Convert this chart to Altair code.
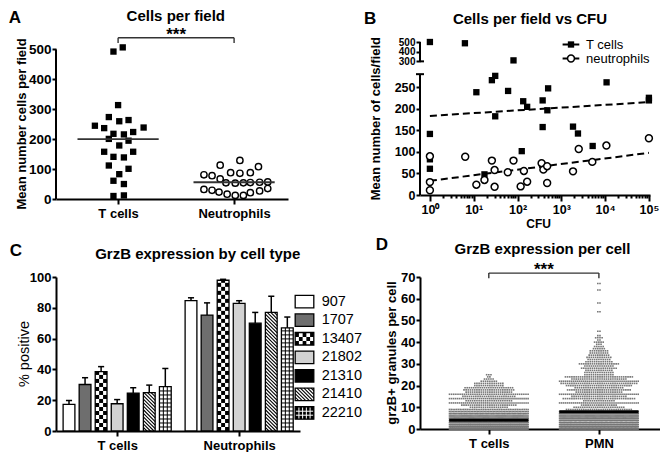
import altair as alt
import pandas as pd

FONT = "Liberation Sans"

# ---------------- Panel A: Cells per field ----------------
a_groups = ["T cells", "Neutrophils"]
a_tcells = [493, 507, 314, 274, 260, 264, 245, 237, 239, 224, 218, 216, 201, 195,
            179, 158, 141, 139, 158, 112, 101, 83, 61, 50, 10, 12]
a_tcells_jitter = [-0.04, 0.04, 0.0, -0.08, 0.01, 0.09, -0.2, -0.12, 0.22, 0.13, -0.04, 0.05,
                   -0.08, 0.09, 0.01, -0.12, -0.04, 0.05, 0.13, -0.08, 0.09, 0.01, -0.04, 0.05,
                   -0.04, 0.05]
a_neut = [129, 113, 108, 88, 86, 88, 81, 78, 67, 54, 53, 54, 55, 56, 57,
          32, 29, 23, 16, 12, 12, 21, 27, 35]
a_neut_jitter = [0.05, -0.12, 0.21, -0.03, 0.05, 0.14, -0.26, -0.19, -0.12, -0.07, 0.01, 0.08,
                 0.14, 0.22, 0.29, -0.26, -0.19, -0.13, -0.06, 0.01, 0.08, 0.14, 0.22, 0.29]
a_medians = [200, 56]

# ---------------- Panel B: Cells per field vs CFU ----------------
b_series = ["T cells", "neutrophils"]
b_t_cfu = [1, 6.3, 81, 1, 1, 1, 11.5, 26, 31, 31, 61, 125, 135, 166, 375, 375, 500, 480,
           1850, 2400, 5200, 10800, 100000, 100000, 17.6]
b_t_cells = [500, 487, 310, 142, 83, 61, 239, 267, 277, 183, 242, 102, 218, 205, 220, 158, 248,
             197, 159, 143, 114, 262, 226, 220, 48]
b_n_cfu = [1, 1, 1, 6.4, 11.5, 17.6, 26, 30, 30, 60, 81, 118, 140, 166, 355, 390, 475, 475,
           1850, 2500, 5100, 10700, 100000]
b_n_cells = [90, 30, 11, 89, 24, 35, 80, 58, 19, 53, 80, 20, 56, 31, 74, 59, 67, 28, 55, 107,
             77, 115, 132]
b_trend_cfu = [1, 100000]
b_trend_t = [184, 216]
b_trend_n = [33, 98]

# ---------------- Panel C: GrzB expression by cell type ----------------
c_groups = ["T cells", "Neutrophils"]
c_series = ["907", "1707", "13407", "21802", "21310", "21410", "22210"]
c_tcell_mean = [17.3, 30.2, 38.5, 17.7, 24.6, 24.9, 28.8]
c_tcell_sem = [2.5, 4.4, 3.3, 2.7, 3.5, 4.9, 11.8]
c_neut_mean = [84.6, 75.3, 97.9, 82.9, 70.0, 77.0, 67.0]
c_neut_sem = [1.9, 7.9, 0.6, 1.7, 7.0, 10.5, 7.0]

# ---------------- Panel D: GrzB expression per cell ----------------
d_groups = ["T cells", "PMN"]
d_t_values = list(range(26))
d_t_counts = [110, 120, 115, 105, 95, 85, 75, 65, 55, 45, 18, 26, 40, 22, 40, 25, 38, 22, 24,
              23, 14, 14, 8, 5, 2, 3]
d_pmn_values = list(range(44)) + [45, 54, 58, 64, 67]
d_pmn_counts = [90, 100, 105, 100, 95, 90, 85, 80, 75, 31, 24, 17, 40, 15, 34, 26, 40, 22, 30,
                23, 31, 36, 40, 26, 32, 14, 14, 13, 17, 14, 19, 13, 11, 12, 10, 9, 9, 6, 5, 3,
                5, 2, 4, 2, 2, 2, 2, 2, 2]
d_medians = [4, 8]

one = pd.DataFrame({"k": [0]})


def label_px(s, x, y, size, weight="bold", angle=0, align="center", baseline="middle"):
    return (alt.Chart(one)
            .mark_text(text=s, font=FONT, fontSize=size, fontWeight=weight, angle=angle,
                       align=align, baseline=baseline, color="black")
            .encode(x=alt.value(x), y=alt.value(y)))


def bracket_layers(X, Y, xa, xb, ytop, yleg, ystar):
    h = alt.Chart(pd.DataFrame({"xa": [xa], "xb": [xb], "y": [ytop]})).mark_rule(
        color="#333", strokeWidth=1.4).encode(x=X("xa"), x2="xb:Q", y=Y("y"))
    legs = alt.Chart(pd.DataFrame({"x": [xa, xb], "ya": [ytop, ytop], "yb": [yleg, yleg]})).mark_rule(
        color="#333", strokeWidth=1.4).encode(x=X("x"), y=Y("ya"), y2="yb:Q")
    star = alt.Chart(pd.DataFrame({"x": [(xa + xb) / 2], "y": [ystar], "t": ["***"]})).mark_text(
        font=FONT, fontSize=17, fontWeight="bold", baseline="alphabetic", color="black").encode(
        x=X("x"), y=Y("y"), text="t:N")
    return [h, legs, star]


# ======================= Panel A =======================
A_W, A_H = 232, 157
ax_scale = alt.Scale(domain=[0.4647, 2.4647], nice=False, zero=False)
ay_scale = alt.Scale(domain=[0, 525], nice=False, zero=False)
ax_axis = alt.Axis(values=[1, 2],
                   labelExpr=f"datum.value == 1 ? '{a_groups[0]}' : '{a_groups[1]}'",
                   labelFlush=False, labelOverlap=False, labelFontSize=13, tickSize=5,
                   labelPadding=3, title=None)
ay_axis = alt.Axis(values=[0, 100, 200, 300, 400, 500], domain=False, labelFontSize=13.5,
                   labelOverlap=False, tickSize=4, labelPadding=1, title=None)


def AX(f):
    return alt.X(f"{f}:Q", scale=ax_scale, axis=ax_axis)


def AY(f):
    return alt.Y(f"{f}:Q", scale=ay_scale, axis=ay_axis)


a_pts = pd.DataFrame({"grp": [0] * len(a_tcells) + [1] * len(a_neut),
                      "value": a_tcells + a_neut,
                      "jit": a_tcells_jitter + a_neut_jitter})
a_base = alt.Chart(a_pts).transform_calculate(xpos="datum.grp + 1 + datum.jit")
a_sq = a_base.transform_filter("datum.grp == 0").mark_point(
    shape="square", filled=True, color="black", size=40, opacity=1).encode(x=AX("xpos"), y=AY("value"))
a_ci = a_base.transform_filter("datum.grp == 1").mark_point(
    shape="circle", filled=True, fill="white", stroke="black", strokeWidth=1.4, size=40,
    opacity=1).encode(x=AX("xpos"), y=AY("value"))
a_med = alt.Chart(pd.DataFrame({"grp": [0, 1], "median": a_medians})).transform_calculate(
    m0="datum.grp + 1 - 0.35", m1="datum.grp + 1 + 0.35").mark_rule(
    color="#333", strokeWidth=1.8).encode(x=AX("m0"), x2="m1:Q", y=AY("median"))
a_yline = alt.Chart(pd.DataFrame({"ya": [0], "yb": [500]})).mark_rule(
    color="black", strokeWidth=2).encode(x=alt.value(0), y=AY("ya"), y2="yb:Q")

panel_a = alt.layer(
    a_sq, a_ci, a_med, a_yline, *bracket_layers(AX, AY, 1, 2, 539, 522, 532),
    label_px("A", -47.3, -24.2, 17, align="left"),
    label_px("Cells per field", 119.8, -25.7, 15),
    label_px("Mean number cells per field", -34, 82, 13, angle=270),
).properties(width=A_W, height=A_H)

# ======================= Panel B =======================
B_W, B_H = 230, 153
BREAK = "datum.cells <= 290 ? datum.cells : 310.8 + (datum.cells - 300) * 0.225"
bx_scale = alt.Scale(type="log", domain=[0.5943, 105900], nice=False)
by_scale = alt.Scale(domain=[0, 355.8], nice=False, zero=False)
bx_values = [m * 10 ** e for e in range(5) for m in range(1, 10)] + [100000]
POW_TEST = "abs(log(datum.value) / LN10 - round(log(datum.value) / LN10)) < 0.01"
bx_axis = alt.Axis(
    values=bx_values,
    labelExpr=("datum.value == 1 ? '10\u2070' : datum.value == 10 ? '10\u00b9' : "
               "datum.value == 100 ? '10\u00b2' : datum.value == 1000 ? '10\u00b3' : "
               "datum.value == 10000 ? '10\u2074' : datum.value == 100000 ? '10\u2075' : ''"),
    labelOverlap=False, labelFlush=False, labelPadding=2, title=None, labelFontSize=12.5,
    tickSize={"condition": {"test": POW_TEST, "value": 6}, "value": 3})
by_axis = alt.Axis(
    values=[0, 50, 100, 150, 200, 250, 310.8, 333.3, 355.8], domain=False, labelOverlap=False,
    labelExpr=("datum.value > 300 ? (datum.value < 320 ? '300' : "
               "(datum.value < 345 ? '400' : '500')) : datum.label"),
    labelFontSize={"condition": {"test": "datum.value > 300", "value": 10}, "value": 12.5},
    tickSize=4, labelPadding=1, title=None)


def BX(f):
    return alt.X(f"{f}:Q", scale=bx_scale, axis=bx_axis)


def BY(f):
    return alt.Y(f"{f}:Q", scale=by_scale, axis=by_axis)


b_df = pd.DataFrame({"series": [b_series[0]] * len(b_t_cfu) + [b_series[1]] * len(b_n_cfu),
                     "cfu": b_t_cfu + b_n_cfu, "cells": b_t_cells + b_n_cells})
b_trend_df = pd.DataFrame({"series": [b_series[0]] * 2 + [b_series[1]] * 2,
                           "cfu": b_trend_cfu + b_trend_cfu, "cells": b_trend_t + b_trend_n})
b_base = alt.Chart(b_df).transform_calculate(yt=BREAK)
b_tr = alt.Chart(b_trend_df).transform_calculate(yt=BREAK).mark_line(
    color="black", strokeWidth=2, strokeDash=[7, 4]).encode(x=BX("cfu"), y=BY("yt"), detail="series:N")
b_sq = b_base.transform_filter(f"datum.series == '{b_series[0]}'").mark_point(
    shape="square", filled=True, color="black", size=40, opacity=1).encode(x=BX("cfu"), y=BY("yt"))
b_ci = b_base.transform_filter(f"datum.series == '{b_series[1]}'").mark_point(
    shape="circle", filled=True, fill="white", stroke="black", strokeWidth=1.5, size=48,
    opacity=1).encode(x=BX("cfu"), y=BY("yt"))
b_axlines = alt.Chart(pd.DataFrame({"ya": [0, 310.8], "yb": [281, 355.8]})).mark_rule(
    color="black", strokeWidth=2).encode(x=alt.value(0), y=BY("ya"), y2="yb:Q")
b_cap_lo = alt.Chart(pd.DataFrame({"y": [281]})).mark_rule(color="black", strokeWidth=2).encode(
    x=alt.value(-4), x2=alt.value(4), y=BY("y"))
b_cap_hi = alt.Chart(pd.DataFrame({"y": [310.8]})).mark_rule(color="black", strokeWidth=2).encode(
    x=alt.value(0), x2=alt.value(4), y=BY("y"))
b_leg_df = pd.DataFrame({"label": b_series})
b_leg = []
for i, yy in enumerate([2.5, 16.5]):
    b_leg.append(alt.Chart(one).mark_rule(color="black", strokeWidth=2).encode(
        x=alt.value(142.6), x2=alt.value(159.3), y=alt.value(yy)))
    if i == 0:
        b_leg.append(alt.Chart(one).mark_point(shape="square", filled=True, color="black",
                                               size=40, opacity=1).encode(x=alt.value(151), y=alt.value(yy)))
    else:
        b_leg.append(alt.Chart(one).mark_point(shape="circle", filled=True, fill="white",
                                               stroke="black", strokeWidth=1.5, size=48,
                                               opacity=1).encode(x=alt.value(151), y=alt.value(yy)))
    b_leg.append(alt.Chart(b_leg_df).transform_filter(f"datum.label == '{b_series[i]}'").mark_text(
        align="left", baseline="middle", font=FONT, fontSize=13, color="black").encode(
        x=alt.value(166), y=alt.value(yy), text="label:N"))

panel_b = alt.layer(
    b_tr, b_sq, b_ci, b_axlines, b_cap_lo, b_cap_hi, *b_leg,
    label_px("B", -56, -22.6, 17, align="left"),
    label_px("Cells per field vs CFU", 110, -23.2, 15),
    label_px("Mean number of cells/field", -44.5, 76.7, 13, angle=270),
    label_px("CFU", 118.6, 181.7, 12),
).properties(width=B_W, height=B_H)

# ======================= Panel C =======================
C_W, C_H = 244, 154
cx_scale = alt.Scale(domain=[-0.81, 14.39], nice=False, zero=False)
cy_scale = alt.Scale(domain=[0, 100], nice=False, zero=False)
cx_axis = alt.Axis(values=[3, 10.6],
                   labelExpr=f"datum.value < 5 ? '{c_groups[0]}' : '{c_groups[1]}'",
                   labelFlush=False, labelOverlap=False, tickSize=5, labelPadding=3, title=None,
                   labelFontSize=13)
cy_axis = alt.Axis(values=[0, 20, 40, 60, 80, 100], tickSize=4, labelPadding=1, title=None,
                   labelOverlap=False, labelFontSize=13)


def CX(f):
    return alt.X(f"{f}:Q", scale=cx_scale, axis=cx_axis)


def CY(f):
    return alt.Y(f"{f}:Q", scale=cy_scale, axis=cy_axis)


c_rows = []
for g, (means, sems) in enumerate([(c_tcell_mean, c_tcell_sem), (c_neut_mean, c_neut_sem)]):
    for s in range(len(c_series)):
        c_rows.append({"kind": "bar", "g": g, "s": s, "series": c_series[s],
                       "mean": means[s], "sem": sems[s]})
for s in range(len(c_series)):
    c_rows.append({"kind": "leg", "g": 0, "s": s, "series": c_series[s], "mean": 0, "sem": 0})
c_df = pd.DataFrame(c_rows)

c_base = (alt.Chart(c_df)
          .transform_calculate(pos="datum.g * 7.6 + datum.s", yc="84 - datum.s * 12.05")
          .transform_calculate(
              x0="datum.kind == 'bar' ? datum.pos - 0.367 : 14.09",
              x1="datum.kind == 'bar' ? datum.pos + 0.367 : 15.25",
              y0="datum.kind == 'bar' ? 0 : datum.yc - 4.05",
              y1="datum.kind == 'bar' ? datum.mean : datum.yc + 4.05",
              fillc="datum.kind == 'leg' && datum.s == 6 ? 'black' : "
                    "['white', '#6e6e6e', 'white', '#d2d2d2', 'black', 'white', 'white'][datum.s]",
              gridc="datum.kind == 'leg' ? 'white' : 'black'"))

c_fill = c_base.mark_rect(strokeWidth=0).encode(
    x=CX("x0"), x2="x1:Q", y=CY("y0"), y2="y1:Q", fill=alt.Fill("fillc:N", scale=None))
c_check = (c_base.transform_filter("datum.s == 2")
           .transform_calculate(ncol="max(1, round((datum.x1 - datum.x0) / 0.25))",
                                nrow="ceil((datum.y1 - datum.y0) / 2.6)")
           .transform_calculate(rr="sequence(0, datum.nrow)", cc="sequence(0, datum.ncol)")
           .transform_flatten(["rr"]).transform_flatten(["cc"])
           .transform_filter("(datum.rr + datum.cc) % 2 == 0")
           .transform_calculate(
               qx0="datum.x0 + datum.cc * (datum.x1 - datum.x0) / datum.ncol",
               qx1="datum.x0 + (datum.cc + 1) * (datum.x1 - datum.x0) / datum.ncol",
               qy0="datum.y0 + datum.rr * 2.6",
               qy1="min(datum.y1, datum.y0 + (datum.rr + 1) * 2.6)")
           .mark_rect(color="black", strokeWidth=0)
           .encode(x=CX("qx0"), x2="qx1:Q", y=CY("qy0"), y2="qy1:Q"))
c_hatch = (c_base.transform_filter("datum.s == 5")
           .transform_calculate(dy="(datum.x1 - datum.x0) * 10.42")
           .transform_calculate(nk="ceil((datum.y1 - datum.y0 + datum.dy) / 2.3)")
           .transform_calculate(kk="sequence(1, datum.nk)")
           .transform_flatten(["kk"])
           .transform_calculate(ya="datum.y0 + datum.kk * 2.3")
           .transform_calculate(
               hx0="datum.ya > datum.y1 ? datum.x0 + (datum.ya - datum.y1) / datum.dy * (datum.x1 - datum.x0) : datum.x0",
               hy0="min(datum.ya, datum.y1)",
               hx1="datum.ya - datum.dy < datum.y0 ? datum.x0 + (datum.ya - datum.y0) / datum.dy * (datum.x1 - datum.x0) : datum.x1",
               hy1="max(datum.ya - datum.dy, datum.y0)")
           .transform_filter("datum.hx1 > datum.hx0 + 0.001")
           .mark_rule(color="black", strokeWidth=1.1)
           .encode(x=CX("hx0"), x2="hx1:Q", y=CY("hy0"), y2="hy1:Q"))
c_grid_h = (c_base.transform_filter("datum.s == 6")
            .transform_calculate(kk="sequence(1, ceil((datum.y1 - datum.y0) / 2.6))")
            .transform_flatten(["kk"])
            .transform_calculate(gy="datum.y0 + datum.kk * 2.6")
            .transform_filter("datum.gy < datum.y1 - 0.3")
            .mark_rule(strokeWidth=1)
            .encode(x=CX("x0"), x2="x1:Q", y=CY("gy"), color=alt.Color("gridc:N", scale=None)))
c_grid_v = (c_base.transform_filter("datum.s == 6")
            .transform_calculate(ncol="max(1, round((datum.x1 - datum.x0) / 0.25))")
            .transform_calculate(jj="sequence(1, datum.ncol)")
            .transform_flatten(["jj"])
            .transform_calculate(gx="datum.x0 + datum.jj * (datum.x1 - datum.x0) / datum.ncol")
            .mark_rule(strokeWidth=1)
            .encode(x=CX("gx"), y=CY("y0"), y2="y1:Q", color=alt.Color("gridc:N", scale=None)))
c_out = c_base.mark_rect(fillOpacity=0, stroke="black", strokeWidth=1.3).encode(
    x=CX("x0"), x2="x1:Q", y=CY("y0"), y2="y1:Q")
c_err = c_base.transform_filter("datum.kind == 'bar'").transform_calculate(
    top="datum.mean + datum.sem", e0="datum.pos - 0.19", e1="datum.pos + 0.19")
c_err_v = c_err.mark_rule(color="black", strokeWidth=1.5).encode(x=CX("pos"), y=CY("y1"), y2="top:Q")
c_err_c = c_err.mark_rule(color="black", strokeWidth=1.5).encode(x=CX("e0"), x2="e1:Q", y=CY("top"))
c_leg_text = (c_base.transform_filter("datum.kind == 'leg'").transform_calculate(lx="15.74")
              .mark_text(align="left", baseline="middle", font=FONT, fontSize=14.5,
                         fontWeight="normal", color="black")
              .encode(x=CX("lx"), y=CY("yc"), text="series:N"))

panel_c = alt.layer(
    c_fill, c_check, c_hatch, c_grid_h, c_grid_v, c_out, c_err_v, c_err_c, c_leg_text,
    label_px("C", -46.3, -26.4, 17, align="left"),
    label_px("GrzB expression by cell type", 141.7, -23.5, 15),
    label_px("% positive", -31, 77, 14.5, weight="normal", angle=270),
).properties(width=C_W, height=C_H)

# ======================= Panel D =======================
D_W, D_H = 240, 152
dx_scale = alt.Scale(domain=[-0.625, 1.555], nice=False, zero=False)
dy_scale = alt.Scale(domain=[0, 70], nice=False, zero=False)
dx_axis = alt.Axis(values=[0, 1],
                   labelExpr=f"datum.value < 0.5 ? '{d_groups[0]}' : '{d_groups[1]}'",
                   labelFlush=False, labelOverlap=False, tickSize=5, labelPadding=3, title=None,
                   labelFontSize=13)
dy_axis = alt.Axis(values=[0, 10, 20, 30, 40, 50, 60, 70], tickSize=4, labelPadding=1, title=None,
                   labelOverlap=False, labelFontSize=13)


def DX(f):
    return alt.X(f"{f}:Q", scale=dx_scale, axis=dx_axis)


def DY(f):
    return alt.Y(f"{f}:Q", scale=dy_scale, axis=dy_axis)


d_df = pd.DataFrame({"cat": [0] * len(d_t_values) + [1] * len(d_pmn_values),
                     "value": d_t_values + d_pmn_values,
                     "n": d_t_counts + d_pmn_counts})
d_dots = (alt.Chart(d_df).transform_filter("datum.n > 0")
          .transform_calculate(sp="datum.n > 1 ? min(0.0196, 0.714 / (datum.n - 1)) : 0",
                               kk="sequence(0, datum.n)")
          .transform_flatten(["kk"])
          .transform_calculate(xpos="datum.cat + (datum.kk - (datum.n - 1) / 2) * datum.sp")
          .mark_square(size=2.6, color="#777", opacity=1)
          .encode(x=DX("xpos"), y=DY("value")))
d_med = alt.Chart(pd.DataFrame({"cat": [0, 1], "median": d_medians})).transform_calculate(
    m0="datum.cat - 0.36", m1="datum.cat + 0.36").mark_rule(color="black", strokeWidth=3).encode(
    x=DX("m0"), x2="m1:Q", y=DY("median"))

panel_d = alt.layer(
    d_dots, d_med, *bracket_layers(DX, DY, 0, 1, 71.8, 69.4, 71),
    label_px("D", -44.3, -31.7, 17, align="left"),
    label_px("GrzB expression per cell", 122.5, -28.3, 15),
    label_px("grzB+ granules per cell", -28, 76, 13, angle=270),
).properties(width=D_W, height=D_H)

# ======================= Assemble =======================
chart = (alt.concat(panel_a, panel_b, panel_c, panel_d, columns=2,
                    spacing={"row": 78, "column": 120}, bounds="flush")
         .properties(padding=0)
         .configure_view(stroke=None)
         .configure_axis(domainColor="black", domainWidth=2, tickColor="black", tickWidth=2,
                         labelFont=FONT, labelFontWeight="bold", labelColor="black",
                         labelFontSize=12, grid=False))

chart.save("out.html", embed_options={"renderer": "svg", "actions": False})
